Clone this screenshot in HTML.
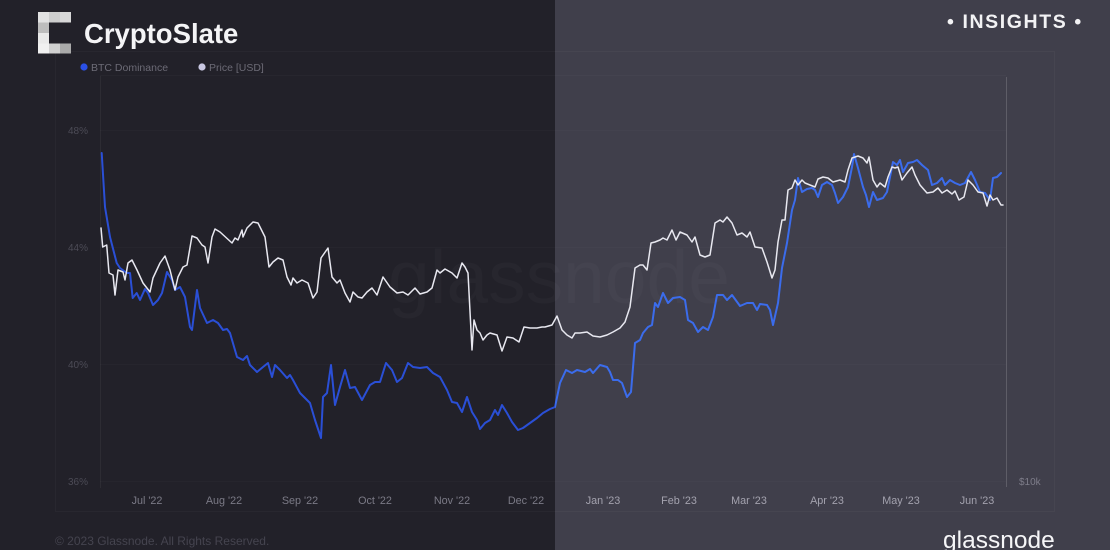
<!DOCTYPE html>
<html><head><meta charset="utf-8"><style>
html,body{margin:0;padding:0;background:#222129;}
svg{display:block;}
text{font-family:"Liberation Sans",Arial,sans-serif;}
</style></head><body>
<svg width="1110" height="550" viewBox="0 0 1110 550" xmlns="http://www.w3.org/2000/svg">
<defs>
<clipPath id="cl"><rect x="0" y="0" width="555" height="550"/></clipPath>
<clipPath id="cr"><rect x="555" y="0" width="555" height="550"/></clipPath>
</defs>
<rect x="0" y="0" width="555" height="550" fill="#222129"/>
<rect x="555" y="0" width="555" height="550" fill="#403f4b"/>

<!-- chart frames -->
<rect x="55.5" y="51.5" width="999" height="460" fill="none" stroke="#ffffff" stroke-opacity="0.03"/>
<line x1="100.5" y1="76" x2="100.5" y2="488" stroke="#ffffff" stroke-opacity="0.05"/>
<line x1="100" y1="75.5" x2="1006" y2="75.5" stroke="#ffffff" stroke-opacity="0.025"/>
<line x1="1006.5" y1="77" x2="1006.5" y2="487" stroke="#ffffff" stroke-opacity="0.16"/>
<g stroke="#ffffff" stroke-opacity="0.018">
<line x1="100" y1="130.5" x2="1006" y2="130.5"/>
<line x1="100" y1="247.5" x2="1006" y2="247.5"/>
<line x1="100" y1="364.5" x2="1006" y2="364.5"/>
<line x1="100" y1="481.5" x2="1006" y2="481.5"/>
</g>

<!-- watermark -->
<text x="388" y="303" font-size="75" fill="#ffffff" fill-opacity="0.022">glassnode</text>

<!-- logo -->
<rect x="38" y="12" width="11" height="10.5" fill="#e2e2e2"/>
<rect x="49" y="12" width="11" height="10.5" fill="#cdcdcd"/>
<rect x="60" y="12" width="11" height="10.5" fill="#d8d8d8"/>
<rect x="38" y="22.5" width="11" height="10.5" fill="#bdbdbd"/>
<rect x="38" y="33" width="11" height="10.5" fill="#e9e9e9"/>
<rect x="38" y="43.5" width="11" height="10" fill="#f0f0f0"/>
<rect x="49" y="43.5" width="11" height="10" fill="#d0d0d0"/>
<rect x="60" y="43.5" width="11" height="10" fill="#aaaaaa"/>
<text x="84" y="43" font-size="27.5" font-weight="bold" fill="#f4f4f6">CryptoSlate</text>

<text x="947" y="28" font-size="19.5" font-weight="bold" fill="#f2f2f4" letter-spacing="1.6">• INSIGHTS •</text>

<!-- legend -->
<circle cx="84" cy="67" r="3.6" fill="#2a50e6"/>
<text x="91" y="71" font-size="10.5" fill="#6c6b76">BTC Dominance</text>
<circle cx="202" cy="67" r="3.6" fill="#c9c8e2"/>
<text x="209" y="71" font-size="10.5" fill="#6c6b76">Price [USD]</text>

<!-- y labels -->
<g font-size="10" fill="#4c4b56" text-anchor="end">
<text x="88" y="134">48%</text>
<text x="88" y="251">44%</text>
<text x="88" y="368">40%</text>
<text x="88" y="485">36%</text>
</g>
<text x="1019" y="485" font-size="10" fill="#7e7d8a">$10k</text>

<!-- x labels -->
<g font-size="10.8" text-anchor="middle">
<g fill="#7b7a86">
<text x="147" y="504">Jul '22</text>
<text x="224" y="504">Aug '22</text>
<text x="300" y="504">Sep '22</text>
<text x="375" y="504">Oct '22</text>
<text x="452" y="504">Nov '22</text>
<text x="526" y="504">Dec '22</text>
</g>
<g fill="#a3a2ae">
<text x="603" y="504">Jan '23</text>
<text x="679" y="504">Feb '23</text>
<text x="749" y="504">Mar '23</text>
<text x="827" y="504">Apr '23</text>
<text x="901" y="504">May '23</text>
<text x="977" y="504">Jun '23</text>
</g>
</g>

<!-- series -->
<g fill="none" stroke-linejoin="round" stroke-linecap="round">
<g id="blue">
<polyline clip-path="url(#cl)" stroke="#2a4fd6" stroke-width="2" points="101.7,153 105,207 110,237 116.7,263 120,268 126.7,273 130,273 132.7,298 136.7,293 140,300 145,289 148,293 153,305 158,300 162,293 167,272 172,280 175,290 180,287 185,297 190,327 192,330 197,290 200,308 207,323 213,320 218,323 223,330 227,329 230,333 237,357 243,360 247,356 250,365 257,372 263,367 268,363 272,377 275,365 280,370 287,378 290,375 293,380 300,393 310,403 315,420 321,438 323,397 327,393 331,365 335,405 340,387 345,370 350,388 355,387 362,400 370,385 375,382 380,382 386,363 392,370 397,382 402,378 408,363 413,367 420,368 427,367 433,373 440,377 447,390 452,402 457,403 462,412 467,397 472,412 477,420 480,429 485,423 490,420 495,410 498,415 502,405 507,413 512,422 518,430 523,428 530,423 537,418 543,413 550,409 555,407 560,383 566,370"/>
<polyline clip-path="url(#cr)" stroke="#3b6cec" stroke-width="2" points="550,409 555,407 560,383 566,370 572,373 577,370 585,372 590,369 593,373 600,365 607,367 610,372 613,380 618,380 622,383 627,397 631,392 635,343 640,340 643,333 648,327 652,325 655,303 658,307 663,293 668,303 673,298 680,297 685,300 688,320 693,323 698,332 703,327 708,330 713,317 717,295 723,295 727,300 732,295 740,306 747,303 753,303 757,310 760,304 767,305 770,310 773,325 778,303 782,268 787,243 792,210 795,200 798,178 802,192 807,189 812,188 815,190 818,197 822,185 827,182 832,185 835,193 838,203 843,197 848,187 852,167 854,154 858,168 863,187 866,195 869,207 873,192 877,200 883,198 887,192 890,177 893,162 897,165 900,160 903,172 908,163 913,162 917,160 922,165 928,170 932,185 937,183 942,178 945,185 950,180 955,183 960,185 965,183 971,172 975,180 980,192 985,193 990,200 993,178 997,177 1001,173"/>
</g>
<polyline stroke="#e8e8f0" stroke-width="1.5" points="101,228 102.7,247 106.7,245 109,273 113,275 115,295 118,270 123,272 125,280 128,263 132,260 137,270 143,283 150,292 153,278 160,263 165,256 170,270 175,290 178,277 183,267 187,265 192,236 197,238 202,245 205,247 208,263 212,237 215,229 220,232 232,243 235,238 238,240 242,230 243,237 247,228 253,222 258,223 265,237 269,267 273,262 278,258 283,260 287,277 291,285 293,278 297,283 302,280 308,283 313,298 317,292 321,258 328,248 332,277 337,283 340,280 345,293 350,302 353,292 358,297 362,298 367,292 372,288 377,295 383,277 390,287 397,293 403,292 408,295 415,288 420,294 427,292 432,288 437,270 440,273 445,269 452,273 457,278 462,263 465,267 468,273 472,350 474,320 477,330 480,333 483,340 487,335 490,333 497,335 502,351 507,337 513,338 519,342 524,327 530,328 537,328 542,327 545,327 552,325 557,316 562,330 567,335 572,338 575,333 580,333 587,332 593,336 600,337 607,335 613,332 620,328 625,322 630,307 635,268 640,265 643,265 647,270 651,243 655,242 660,240 663,238 667,240 672,230 676,240 680,232 687,235 692,242 695,237 700,255 705,257 710,255 715,223 720,220 723,222 727,217 732,223 737,235 742,233 747,237 750,232 755,247 762,248 767,262 772,278 775,270 778,242 782,220 785,220 788,190 792,188 795,180 798,185 802,180 805,183 810,185 815,187 818,179 823,177 828,178 833,182 840,180 845,182 848,170 852,158 858,156 863,158 867,163 869,157 873,180 877,187 880,183 885,187 888,177 892,167 895,168 898,167 902,180 907,173 912,167 915,175 920,185 927,193 933,192 938,188 942,193 947,190 952,194 955,191 959,200 964,197 968,180 973,185 978,192 983,193 987,206 990,195 993,200 997,198 1001,205 1003,205"/>
</g>

<!-- footer -->
<text x="55" y="545" font-size="12" fill="#45444f">© 2023 Glassnode. All Rights Reserved.</text>
<text x="943" y="548" font-size="24.5" fill="#f6f6f8">glassnode</text>
</svg>
</body></html>
